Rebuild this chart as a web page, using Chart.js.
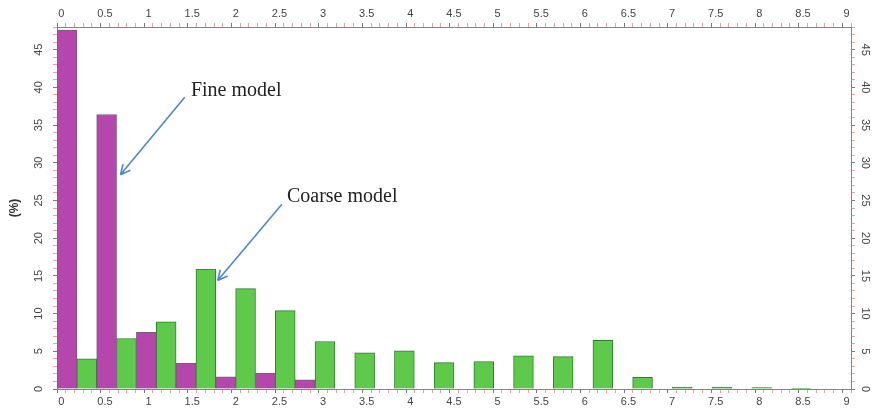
<!DOCTYPE html>
<html>
<head>
<meta charset="utf-8">
<script src="https://cdn.jsdelivr.net/npm/chart.js@4"></script>
<style>
  html, body { margin: 0; padding: 0; background: #fff; }
</style>
</head>
<body>
<canvas id="Chart" width="874" height="408"></canvas>
<script>
// bins of 0.45 wide, 20 slots covering 0..9 (last one empty)
const binLabels = [
  "0", "0.45", "0.9", "1.35", "1.8", "2.25", "2.7", "3.15", "3.6", "4.05",
  "4.5", "4.95", "5.4", "5.85", "6.3", "6.75", "7.2", "7.65", "8.1", "8.55",
];
const fineModel = [
  47.6, 36.4, 7.5, 3.4, 1.6, 2.1, 1.2, null, null, null,
  null, null, null, null, null, null, null, null, null, null,
];
const coarseModel = [
  4.0, 6.7, 8.9, 15.9, 13.3, 10.4, 6.3, 4.8, 5.05, 3.5,
  3.65, 4.4, 4.3, 6.45, 1.55, 0.25, 0.25, 0.2, 0.1, null,
];

// annotation texts and arrows, in data units
const noteTexts = ["Fine model", "Coarse model"];
const noteTextPos = [[1.485, 39.6], [2.585, 25.5]];
const noteFontSize = [20, 20];
const arrowFrom = [[1.414, 38.7], [2.528, 24.5]];
const arrowTo = [[0.677, 28.4], [1.791, 14.4]];

const tickFont = { family: "Arial, 'Liberation Sans', sans-serif", size: 11 };
const axisRed = "#e85a5a";

function halfLabel(value) {
  let v = Math.round(value * 10) / 10;
  if (Math.abs(v * 2 - Math.round(v * 2)) < 1e-6) return String(v);
  return "";
}
function fiveLabel(value) {
  if (value % 5 == 0) return String(value);
  return "";
}

function xAxis(pos) {
  return {
    type: "linear",
    position: pos,
    min: 0,
    max: 9,
    border: { color: axisRed, width: 1 },
    grid: {
      drawOnChartArea: false,
      tickLength: 4,
      tickColor: (ctx) => (ctx.tick && halfLabel(ctx.tick.value) ? "#777" : "#e9a0a0"),
    },
    ticks: {
      stepSize: 0.1,
      autoSkip: false,
      maxRotation: 0,
      padding: 2,
      color: "#444",
      font: tickFont,
      callback: halfLabel,
    },
    afterFit: (s) => { s.height = pos == "top" ? 27 : 19; },
  };
}

function yAxis(pos) {
  return {
    type: "linear",
    position: pos,
    min: 0,
    max: 48,
    border: { color: axisRed, width: 1 },
    grid: {
      drawOnChartArea: false,
      tickLength: 4,
      tickColor: (ctx) => (ctx.tick && ctx.tick.value % 5 == 0 ? "#777" : "#e9a0a0"),
    },
    title: pos == "left"
      ? { display: true, text: "(%)", color: "#333", padding: { top: 7, bottom: 0 },
          font: { family: "Arial, 'Liberation Sans', sans-serif", size: 12, weight: "bold" } }
      : { display: false },
    ticks: {
      stepSize: 1,
      autoSkip: false,
      crossAlign: "center",
      minRotation: pos == "left" ? 90 : -90,
      maxRotation: pos == "left" ? 90 : -90,
      padding: pos == "left" ? 8 : 4,
      color: "#444",
      font: tickFont,
      callback: fiveLabel,
    },
    afterFit: (s) => { s.width = pos == "left" ? 57 : 23; },
  };
}

const notesPlugin = {
  id: "notes",
  afterDatasetsDraw(chart) {
    const ctx = chart.ctx;
    const xs = chart.scales.xBottom;
    const ys = chart.scales.y;
    ctx.save();
    for (let i = 0; i < noteTexts.length; i++) {
      ctx.fillStyle = "#222";
      ctx.font = noteFontSize[i] + "px 'Liberation Serif', 'Times New Roman', serif";
      ctx.textAlign = "left";
      ctx.textBaseline = "middle";
      ctx.fillText(noteTexts[i], xs.getPixelForValue(noteTextPos[i][0]), ys.getPixelForValue(noteTextPos[i][1]));

      let x1 = xs.getPixelForValue(arrowFrom[i][0]);
      let y1 = ys.getPixelForValue(arrowFrom[i][1]);
      let x2 = xs.getPixelForValue(arrowTo[i][0]);
      let y2 = ys.getPixelForValue(arrowTo[i][1]);
      let ang = Math.atan2(y2 - y1, x2 - x1);
      ctx.strokeStyle = "#4f86cf";
      ctx.lineWidth = 1.6;
      ctx.beginPath();
      ctx.moveTo(x1, y1);
      ctx.lineTo(x2, y2);
      ctx.moveTo(x2, y2);
      ctx.lineTo(x2 - 11 * Math.cos(ang - 0.45), y2 - 11 * Math.sin(ang - 0.45));
      ctx.moveTo(x2, y2);
      ctx.lineTo(x2 - 11 * Math.cos(ang + 0.45), y2 - 11 * Math.sin(ang + 0.45));
      ctx.stroke();
    }
    ctx.restore();
  },
};

const data = {
  labels: binLabels,
  datasets: [
    {
      label: "Fine model",
      data: fineModel,
      backgroundColor: "#b446ac",
      borderColor: "#7a5a7a",
      borderWidth: 1,
      categoryPercentage: 1,
      barPercentage: 1,
      xAxisID: "x",
      yAxisID: "y",
    },
    {
      label: "Coarse model",
      data: coarseModel,
      backgroundColor: "#5ec94a",
      borderColor: "#2f7f2f",
      borderWidth: 1,
      categoryPercentage: 1,
      barPercentage: 1,
      xAxisID: "x",
      yAxisID: "y",
    },
  ],
};

const config = {
  type: "bar",
  data: data,
  options: {
    responsive: false,
    animation: false,
    layout: { padding: 0 },
    plugins: { legend: { display: false }, tooltip: { enabled: false } },
    scales: {
      x: { type: "category", display: false, offset: true },
      xTop: xAxis("top"),
      xBottom: xAxis("bottom"),
      y: yAxis("left"),
      yRight: yAxis("right"),
    },
  },
  plugins: [notesPlugin],
};

const myChart = new Chart(document.getElementById("Chart"), config);
</script>
</body>
</html>
